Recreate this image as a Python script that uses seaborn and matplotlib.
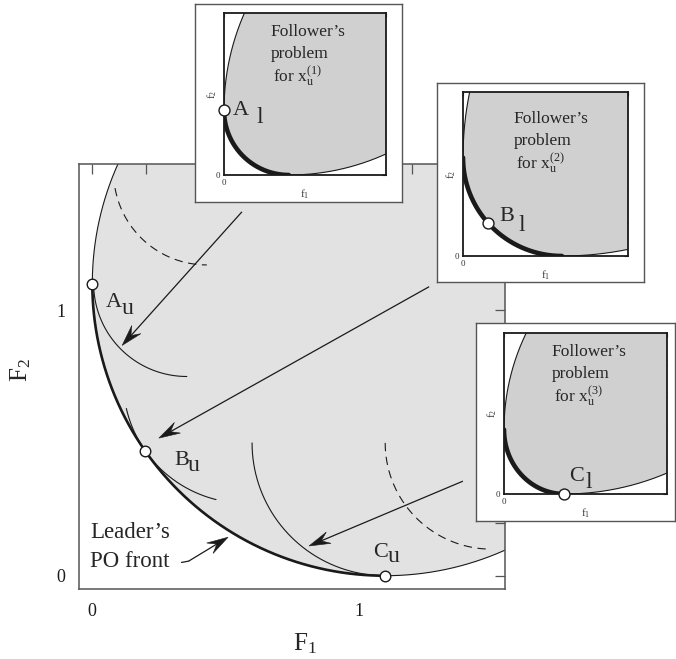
import numpy as np
import matplotlib
matplotlib.use("Agg")
import matplotlib.pyplot as plt
from matplotlib.patches import Polygon
import seaborn as sns

W, H = 676, 659

sns.set_theme(style="white")
plt.rcParams.update({
    "font.family": ["Liberation Serif", "DejaVu Serif"],
    "mathtext.fontset": "custom",
    "mathtext.rm": "Liberation Serif",
    "mathtext.it": "Liberation Serif:italic",
    "mathtext.bf": "Liberation Serif:bold",
})

# ---------------- leader (upper level) objective space ----------------
leader_center = (1.1, 1.1)
leader_radius = 1.1
leader_ticks = [0.0, 0.2, 0.4, 0.6, 0.8, 1.0, 1.2, 1.4]
leader_ticklabels = ["0", "", "", "", "", "1", "", ""]
# A_u, B_u, C_u on the leader's PO front (angle on the front, degrees)
leader_point_angles = [180, 215, 270]

# follower fronts mapped into leader space
arc_cx = [0.355, 0.576, 1.10, 0.43, 1.50]
arc_cy = [1.100, 0.733, 0.50, 1.52, 0.50]
arc_r = [0.350, 0.460, 0.50, 0.35, 0.40]
arc_a0 = [180, 193, 180, 190, 180]
arc_a1 = [270, 256, 270, 270, 268]
arc_dashed = [False, False, False, True, True]

# mapping arrows (from each follower problem to the leader space)
arrow_tail_x = [0.562, 1.265, 1.392]
arrow_tail_y = [1.370, 1.088, 0.356]
arrow_tip_x = [0.112, 0.250, 0.814]
arrow_tip_y = [0.867, 0.518, 0.112]

# pointer to the leader's PO front
front_ptr_x = [0.335, 0.362, 0.510]
front_ptr_y = [0.050, 0.055, 0.145]

# ---------------- follower (lower level) problems ----------------
inset_front_rx = [0.40, 0.60, 0.37]
inset_front_ry = [0.40, 0.60, 0.40]
inset_upper_R = [1.49, 2.00, 1.39]
inset_lower_R = [1.45, 2.00, 1.59]
inset_point_angles = [180, 222, 270]   # A_l, B_l, C_l on the follower fronts
inset_ticks = [0.0, 0.2, 0.4, 0.6, 0.8, 1.0]
inset_ticklabels = ["0", "", "", "", "", ""]
inset_superscripts = ["(1)", "(2)", "(3)"]
point_letters = ["A", "B", "C"]

# layout in pixels: outer frame and inner axes of each follower panel
inset_box = [(195, 4, 402, 202), (437, 83, 644, 282), (476, 323, 675, 521)]
inset_inner = [(224, 13, 386, 175), (463, 92, 628, 256), (504, 333, 667, 494)]
inset_text_xy = [(270, 36), (513, 123), (551, 356)]
inset_label_xy = [((233, 115), (256, 123)), ((499, 221), (518, 231)), ((569, 481), (585, 488))]
leader_label_xy = [((106, 307), (122, 314)), ((174, 465), (188, 471)), ((373, 557), (388, 562))]

MAIN_FILL = "#e2e2e2"
INSET_FILL = "#d0d0d0"
SPINE = "#555555"


def arc(cx, cy, rx, ry, a0, a1, n=240):
    t = np.radians(np.linspace(a0, a1, n))
    return cx + rx * np.cos(t), cy + ry * np.sin(t)


def axes_px(fig, x0, y0, x1, y1, **kw):
    return fig.add_axes([x0 / W, 1 - y1 / H, (x1 - x0) / W, (y1 - y0) / H], **kw)


def ftext(px, py, s, **kw):
    kw.setdefault("zorder", 10)
    return fig.text(px / W, 1 - py / H, s, **kw)


def line(ax, x, y, **kw):
    sns.lineplot(x=x, y=y, sort=False, estimator=None, errorbar=None, ax=ax, **kw)


def stealth(ax, tail, tip, length=0.08, half_width=0.023, notch=0.62, lw=0.9):
    tail = np.asarray(tail, float)
    tip = np.asarray(tip, float)
    d = tip - tail
    d /= np.hypot(*d)
    n = np.array([-d[1], d[0]])
    base = tip - d * length
    inner = tip - d * length * notch
    ax.plot([tail[0], inner[0]], [tail[1], inner[1]], color="k", lw=lw,
            solid_capstyle="butt")
    ax.add_patch(Polygon([tip, base + n * half_width, inner, base - n * half_width],
                         closed=True, fc="k", ec="k", lw=0.4, zorder=4))


fig = plt.figure(figsize=(W / 100, H / 100), dpi=100)

# ---------------- main axes ----------------
ax = axes_px(fig, 79, 164, 505, 589)
ax.set_zorder(0)
cx, cy = leader_center
R = leader_radius
fx, fy = arc(cx, cy, R, R, 0, 360, 720)
ax.fill(fx, fy, color=MAIN_FILL, lw=0, zorder=0)
line(ax, fx, fy, color="k", lw=0.8)
px_, py_ = arc(cx, cy, R, R, 180, 270)
line(ax, px_, py_, color="k", lw=1.9)

for i in range(len(arc_r)):
    x, y = arc(arc_cx[i], arc_cy[i], arc_r[i], arc_r[i], arc_a0[i], arc_a1[i])
    if arc_dashed[i]:
        line(ax, x, y, color="k", lw=0.8, linestyle=(0, (7.5, 5)))
    else:
        line(ax, x, y, color="k", lw=0.8)

for i in range(3):
    stealth(ax, (arrow_tail_x[i], arrow_tail_y[i]), (arrow_tip_x[i], arrow_tip_y[i]))

ax.plot(front_ptr_x[:2], front_ptr_y[:2], color="k", lw=0.9)
stealth(ax, (front_ptr_x[1], front_ptr_y[1]), (front_ptr_x[2], front_ptr_y[2]))

ang = np.radians(leader_point_angles)
sns.scatterplot(x=cx + R * np.cos(ang), y=cy + R * np.sin(ang), s=58, color="white",
                edgecolor="k", linewidth=1.0, zorder=6, ax=ax)

ax.set_xlim(-0.05, 1.55)
ax.set_ylim(-0.05, 1.55)
ax.set_xticks(leader_ticks, leader_ticklabels)
ax.set_yticks(leader_ticks, leader_ticklabels)
ax.tick_params(direction="in", length=7, width=0.9, color=SPINE, top=True, right=True,
               labelsize=13, pad=10, labelcolor="k")
for s in ax.spines.values():
    s.set_color(SPINE)
    s.set_linewidth(1.1)
ax.set_xlabel("")
ax.set_ylabel("")

ftext(293, 650, "F$_1$", fontsize=18, ha="left", va="baseline")
ftext(33, 370, "F$_2$", fontsize=18, ha="right", va="center", rotation=90)

for (lp, sp), letter in zip(leader_label_xy, point_letters):
    ftext(*lp, letter, fontsize=16, ha="left", va="baseline")
    ftext(*sp, "u", fontsize=17, ha="left", va="baseline")

ftext(90, 538, "Leader\u2019s", fontsize=16.5, ha="left", va="baseline")
ftext(90, 567, "PO front", fontsize=16.5, ha="left", va="baseline")

# ---------------- follower panels ----------------
for i in range(3):
    bx0, by0, bx1, by1 = inset_box[i]
    box = axes_px(fig, bx0, by0, bx1, by1)
    box.set_zorder(2 + 2 * i)
    box.set_facecolor("white")
    box.set_xticks([])
    box.set_yticks([])
    for s in box.spines.values():
        s.set_color(SPINE)
        s.set_linewidth(1.0)

    ix0, iy0, ix1, iy1 = inset_inner[i]
    iax = axes_px(fig, ix0, iy0, ix1, iy1)
    iax.set_zorder(3 + 2 * i)
    iax.set_facecolor("white")

    rx, ry = inset_front_rx[i], inset_front_ry[i]
    Ru, Rl = inset_upper_R[i], inset_lower_R[i]
    ux, uy = arc(Ru, ry, Ru, Ru, 130, 180)
    frx, fry = arc(rx, ry, rx, ry, 180, 270)
    lx, ly = arc(rx, Rl, Rl, Rl, 270, 320)
    iax.fill(np.r_[ux, frx, lx, 2.0], np.r_[uy, fry, ly, 2.0], color=INSET_FILL, lw=0)
    line(iax, ux, uy, color="k", lw=0.8)
    line(iax, lx, ly, color="k", lw=0.8)
    line(iax, frx, fry, color="k", lw=3.3)
    a = np.radians(inset_point_angles[i])
    sns.scatterplot(x=[rx + rx * np.cos(a)], y=[ry + ry * np.sin(a)], s=62, color="white",
                    edgecolor="k", linewidth=1.0, zorder=6, ax=iax, clip_on=False)

    iax.set_xlim(0, 1)
    iax.set_ylim(0, 1)
    iax.set_xticks(inset_ticks, inset_ticklabels)
    iax.set_yticks(inset_ticks, inset_ticklabels)
    iax.tick_params(direction="in", length=3, width=0.8, color="k", top=True, right=True,
                    labelsize=6.5, pad=3, labelcolor="#333333")
    for s in iax.spines.values():
        s.set_color("k")
        s.set_linewidth(1.3)
    iax.set_xlabel("")
    iax.set_ylabel("")

    tx, ty = inset_text_xy[i]
    ftext(tx, ty, "Follower\u2019s", fontsize=12.5, ha="left", va="baseline", zorder=20)
    ftext(tx + 1, ty + 22, "problem", fontsize=12.5, ha="left", va="baseline", zorder=20)
    ftext(tx + 3, ty + 46, "for x$_{\\mathrm{u}}^{%s}$" % inset_superscripts[i],
          fontsize=12.5, ha="left", va="baseline", zorder=20)

    (lpx, lpy), (spx, spy) = inset_label_xy[i]
    ftext(lpx, lpy, point_letters[i], fontsize=16, ha="left", va="baseline", zorder=20)
    ftext(spx, spy, "l", fontsize=17, ha="left", va="baseline", zorder=20)

    ftext((ix0 + ix1) / 2, iy1 + 19, "f$_1$", fontsize=8, ha="center", va="center",
          zorder=20, color="#333333")
    ftext(ix0 - 12, (iy0 + iy1) / 2, "f$_2$", fontsize=8, ha="center", va="center",
          rotation=90, zorder=20, color="#333333")

fig.savefig("out.png", dpi=100)
